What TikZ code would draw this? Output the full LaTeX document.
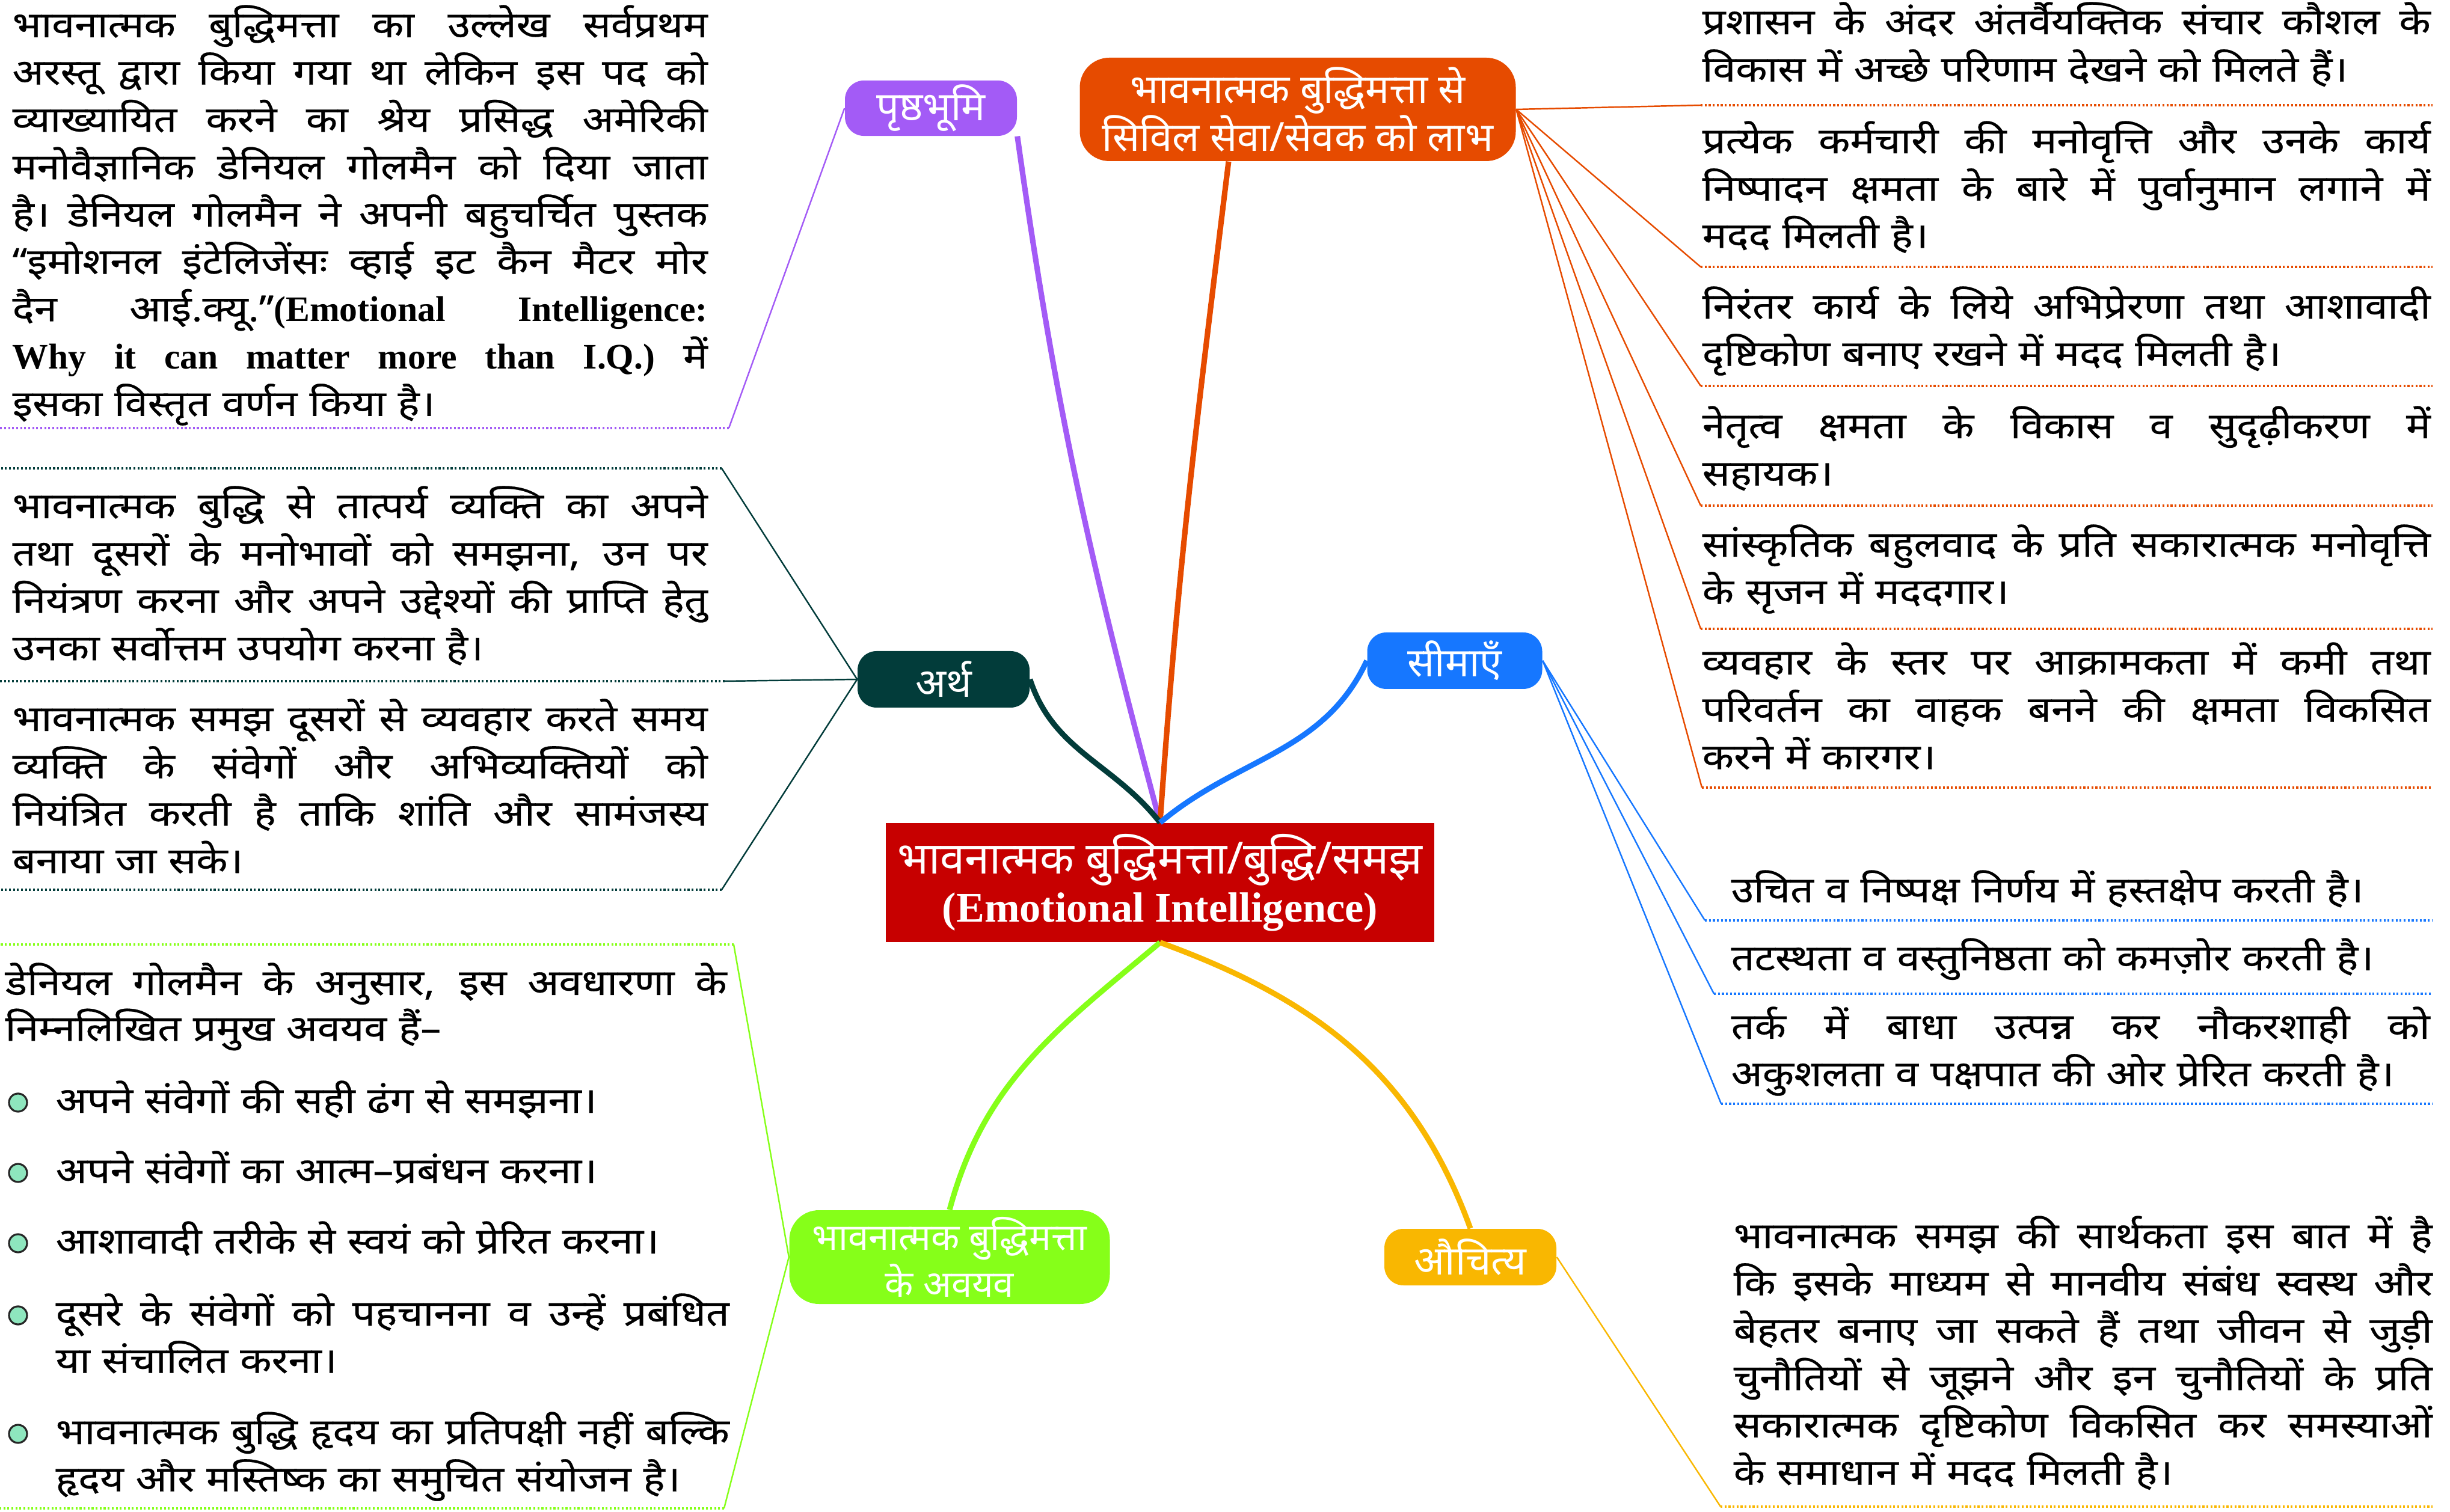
\documentclass[tikz,border=0pt]{standalone}
\usepackage{fontspec}
\usepackage{xcolor}
\usepackage{tikz}
\usetikzlibrary{calc}
\newfontfamily\hindi[Script=Devanagari,FakeStretch=1.14,FakeBold=0.4]{Noto Sans}
\newfontfamily\hinditl[Script=Devanagari]{Noto Sans}
\newfontfamily\engb{Liberation Serif}
\definecolor{bgViolet}{HTML}{A35BF6}
\definecolor{benOrange}{HTML}{E64B00}
\definecolor{meanTeal}{HTML}{023C3A}
\definecolor{limBlue}{HTML}{1677FF}
\definecolor{partGreen}{HTML}{86FF19}
\definecolor{justAmber}{HTML}{F9B701}
\definecolor{coreRed}{HTML}{C70000}
\definecolor{mint}{HTML}{8EE6BE}
% one justified line of a leaf text
\newcommand{\jl}[1]{\leavevmode\hbox to \linewidth{\spaceskip=0.24em plus 4em minus 0.08em #1}}

\begin{document}
\begin{tikzpicture}[
  topic/.style={fill=#1, rounded corners=9pt, text=white, align=center, inner sep=2pt,
    font=\hinditl\bfseries\fontsize{19}{23}\selectfont},
  leaf/.style={anchor=base west, inner sep=0pt, align=left,
    font=\hindi\fontsize{17}{22.4}\selectfont},
  stem/.style={line width=2.6pt},
  twig/.style={line width=0.7pt},
  uline/.style={line width=0.9pt, densely dotted},
  dot/.style={circle, draw=black!85, fill=mint, line width=0.9pt, minimum size=0.3cm, inner sep=0pt},
]
  \useasboundingbox (0,0) rectangle (40.74,25.14);
  \coordinate (L) at (0,0);
  \coordinate (R) at (40.45,0);

  % central topic and main branches
  \node[fill=coreRed, minimum width=9.12cm, minimum height=1.98cm, text=white, align=center,
    inner sep=0pt, font=\hinditl\bfseries\fontsize{21}{22.7}\selectfont] (core) at (19.29,10.46)
    {भावनात्मक बुद्धिमत्ता/बुद्धि/समझ\\{\engb\bfseries\fontsize{20}{22.7}\selectfont (Emotional Intelligence)}};
  \node[topic=bgViolet, minimum width=2.86cm, minimum height=0.91cm] (bg) at (15.48,23.34) {पृष्ठभूमि};
  \node[topic=benOrange, minimum width=7.25cm, minimum height=1.72cm, rounded corners=14pt] (ben) at (21.58,23.32)
    {भावनात्मक बुद्धिमत्ता से\\सिविल सेवा/सेवक को लाभ};
  \node[topic=meanTeal, minimum width=2.86cm, minimum height=0.94cm] (mean) at (15.69,13.84) {अर्थ};
  \node[topic=limBlue, minimum width=2.91cm, minimum height=0.94cm] (lim) at (24.19,14.15) {सीमाएँ};
  \node[topic=partGreen, minimum width=5.33cm, minimum height=1.56cm, rounded corners=14pt,
    font=\hinditl\bfseries\fontsize{17.5}{22}\selectfont] (part) at (15.79,4.23) {भावनात्मक बुद्धिमत्ता\\के अवयव};
  \node[topic=justAmber, minimum width=2.86cm, minimum height=0.94cm] (just) at (24.45,4.23) {औचित्य};

  \draw[stem, bgViolet] (core.north) to[out=105, in=-82] (bg.-18);
  \draw[stem, benOrange] (core.north) to[out=86, in=-97] (ben.217);
  \draw[stem, meanTeal] (core.north) to[out=128, in=-72] (mean.east);
  \draw[stem, limBlue] (core.north) to[out=40, in=-115] (lim.west);
  \draw[stem, partGreen] (core.south) to[out=-140, in=75] (part.north);
  \draw[stem, justAmber] (core.south) to[out=-20, in=110] (just.north);

  % ends of the underlines
  \coordinate (pu1) at (12.12,18.02);
  \coordinate (te1) at (12.00,17.35);
  \coordinate (te2) at (12.05,13.81);
  \coordinate (te3) at (12.00,10.34);
  \coordinate (gr1) at (12.20,9.43);
  \coordinate (gr2) at (12.04,0.05);
  \coordinate (or1) at (28.28,23.39);
  \coordinate (or2) at (28.28,20.70);
  \coordinate (or3) at (28.28,18.72);
  \coordinate (or4) at (28.28,16.73);
  \coordinate (or5) at (28.28,14.68);
  \coordinate (or6) at (28.30,12.04);
  \coordinate (bl1) at (28.35,9.83);
  \coordinate (bl2) at (28.50,8.61);
  \coordinate (bl3) at (28.62,6.78);
  \coordinate (ye1) at (28.61,0.08);

  \draw[twig, bgViolet] (bg.west) -- (pu1);
  \draw[uline, bgViolet] (pu1) -- (pu1 -| L);
  \draw[twig, meanTeal] (mean.west) -- (te1);
  \draw[twig, meanTeal] (mean.west) -- (te2);
  \draw[twig, meanTeal] (mean.west) -- (te3);
  \draw[uline, meanTeal] (te1) -- (te1 -| L);
  \draw[uline, meanTeal] (te2) -- (te2 -| L);
  \draw[uline, meanTeal] (te3) -- (te3 -| L);
  \draw[twig, partGreen] (part.west) -- (gr1);
  \draw[twig, partGreen] (part.west) -- (gr2);
  \draw[uline, partGreen] (gr1) -- (gr1 -| L);
  \draw[uline, partGreen] (gr2) -- (gr2 -| L);
  \draw[twig, benOrange] (ben.east) -- (or1);
  \draw[twig, benOrange] (ben.east) -- (or2);
  \draw[twig, benOrange] (ben.east) -- (or3);
  \draw[twig, benOrange] (ben.east) -- (or4);
  \draw[twig, benOrange] (ben.east) -- (or5);
  \draw[twig, benOrange] (ben.east) -- (or6);
  \draw[uline, benOrange] (or1) -- (or1 -| R);
  \draw[uline, benOrange] (or2) -- (or2 -| R);
  \draw[uline, benOrange] (or3) -- (or3 -| R);
  \draw[uline, benOrange] (or4) -- (or4 -| R);
  \draw[uline, benOrange] (or5) -- (or5 -| R);
  \draw[uline, benOrange] (or6) -- (or6 -| R);
  \draw[twig, limBlue] (lim.east) -- (bl1);
  \draw[twig, limBlue] (lim.east) -- (bl2);
  \draw[twig, limBlue] (lim.east) -- (bl3);
  \draw[uline, limBlue] (bl1) -- (bl1 -| R);
  \draw[uline, limBlue] (bl2) -- (bl2 -| R);
  \draw[uline, limBlue] (bl3) -- (bl3 -| R);
  \draw[twig, justAmber] (just.east) -- (ye1);
  \draw[uline, justAmber] (ye1) -- (ye1 -| R);

  % left texts
  \node[leaf, text width=11.56cm] (bgtext) at (0.2,24.52) {%
    \jl{भावनात्मक बुद्धिमत्ता का उल्लेख सर्वप्रथम}\\
    \jl{अरस्तू द्वारा किया गया था लेकिन इस पद को}\\
    \jl{व्याख्यायित करने का श्रेय प्रसिद्ध अमेरिकी}\\
    \jl{मनोवैज्ञानिक डेनियल गोलमैन को दिया जाता}\\
    \jl{है। डेनियल गोलमैन ने अपनी बहुचर्चित पुस्तक}\\
    \jl{\bfseries “इमोशनल इंटेलिजेंसः व्हाई इट कैन मैटर मोर}\\
    \jl{\bfseries दैन आई.क्यू.”{\engb(Emotional Intelligence:}}\\
    \jl{{\engb\bfseries Why it can matter more than I.Q.)} में}\\
    इसका विस्तृत वर्णन किया है।};
  \node[leaf, text width=11.56cm] (meantext1) at (0.2,16.52) {%
    \jl{भावनात्मक बुद्धि से तात्पर्य व्यक्ति का अपने}\\
    \jl{तथा दूसरों के मनोभावों को समझना, उन पर}\\
    \jl{नियंत्रण करना और अपने उद्देश्यों की प्राप्ति हेतु}\\
    उनका सर्वोत्तम उपयोग करना है।};
  \node[leaf, text width=11.56cm] (meantext2) at (0.2,12.98) {%
    \jl{भावनात्मक समझ दूसरों से व्यवहार करते समय}\\
    \jl{व्यक्ति के संवेगों और अभिव्यक्तियों को}\\
    \jl{नियंत्रित करती है ताकि शांति और सामंजस्य}\\
    बनाया जा सके।};
  \node[leaf, text width=12.0cm, font=\hindi\bfseries\fontsize{17}{21.7}\selectfont] (parttext) at (0.08,8.59) {%
    \jl{डेनियल गोलमैन के अनुसार, इस अवधारणा के}\\
    निम्नलिखित प्रमुख अवयव हैं–};
  \node[dot] (d1) at (0.30,6.80) {};
  \node[dot] (d2) at (0.30,5.63) {};
  \node[dot] (d3) at (0.30,4.46) {};
  \node[dot] (d4) at (0.30,3.26) {};
  \node[dot] (d5) at (0.30,1.29) {};
  \node[leaf, text width=11.2cm] (p1) at (0.92,6.63) {अपने संवेगों की सही ढंग से समझना।};
  \node[leaf, text width=11.2cm] (p2) at (0.92,5.46) {अपने संवेगों का आत्म–प्रबंधन करना।};
  \node[leaf, text width=11.2cm] (p3) at (0.92,4.29) {आशावादी तरीके से स्वयं को प्रेरित करना।};
  \node[leaf, text width=11.2cm] (p4) at (0.92,3.09) {%
    \jl{दूसरे के संवेगों को पहचानना व उन्हें प्रबंधित}\\
    या संचालित करना।};
  \node[leaf, text width=11.2cm] (p5) at (0.92,1.12) {%
    \jl{भावनात्मक बुद्धि हृदय का प्रतिपक्षी नहीं बल्कि}\\
    हृदय और मस्तिष्क का समुचित संयोजन है।};

  % right texts
  \node[leaf, text width=12.11cm] (ben1) at (28.30,24.57) {%
    \jl{प्रशासन के अंदर अंतर्वैयक्तिक संचार कौशल के}\\
    विकास में अच्छे परिणाम देखने को मिलते हैं।};
  \node[leaf, text width=12.11cm] (ben2) at (28.30,22.59) {%
    \jl{प्रत्येक कर्मचारी की मनोवृत्ति और उनके कार्य}\\
    \jl{निष्पादन क्षमता के बारे में पुर्वानुमान लगाने में}\\
    मदद मिलती है।};
  \node[leaf, text width=12.11cm] (ben3) at (28.30,19.84) {%
    \jl{निरंतर कार्य के लिये अभिप्रेरणा तथा आशावादी}\\
    दृष्टिकोण बनाए रखने में मदद मिलती है।};
  \node[leaf, text width=12.11cm] (ben4) at (28.30,17.85) {%
    \jl{नेतृत्व क्षमता के विकास व सुदृढ़ीकरण में}\\
    सहायक।};
  \node[leaf, text width=12.11cm] (ben5) at (28.30,15.88) {%
    \jl{सांस्कृतिक बहुलवाद के प्रति सकारात्मक मनोवृत्ति}\\
    के सृजन में मददगार।};
  \node[leaf, text width=12.11cm] (ben6) at (28.30,13.92) {%
    \jl{व्यवहार के स्तर पर आक्रामकता में कमी तथा}\\
    \jl{परिवर्तन का वाहक बनने की क्षमता विकसित}\\
    करने में कारगर।};
  \node[leaf, text width=11.62cm] (lim1) at (28.78,10.13) {उचित व निष्पक्ष निर्णय में हस्तक्षेप करती है।};
  \node[leaf, text width=11.62cm] (lim2) at (28.78,9.00) {तटस्थता व वस्तुनिष्ठता को कमज़ोर करती है।};
  \node[leaf, text width=11.62cm] (lim3) at (28.78,7.86) {%
    \jl{तर्क में बाधा उत्पन्न कर नौकरशाही को}\\
    अकुशलता व पक्षपात की ओर प्रेरित करती है।};
  \node[leaf, text width=11.62cm] (justtext) at (28.82,4.38) {%
    \jl{भावनात्मक समझ की सार्थकता इस बात में है}\\
    \jl{कि इसके माध्यम से मानवीय संबंध स्वस्थ और}\\
    \jl{बेहतर बनाए जा सकते हैं तथा जीवन से जुड़ी}\\
    \jl{चुनौतियों से जूझने और इन चुनौतियों के प्रति}\\
    \jl{सकारात्मक दृष्टिकोण विकसित कर समस्याओं}\\
    के समाधान में मदद मिलती है।};
\end{tikzpicture}
\end{document}
